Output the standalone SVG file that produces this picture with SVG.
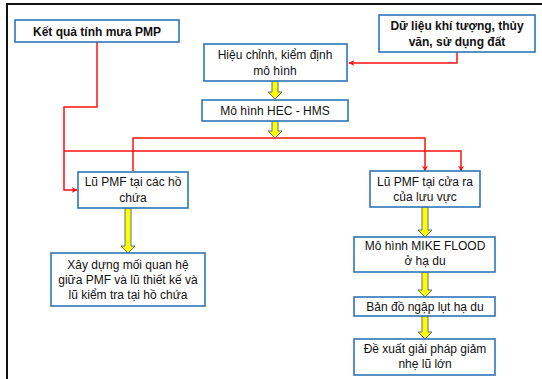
<svg xmlns="http://www.w3.org/2000/svg" width="542" height="379" viewBox="0 0 542 379">
<defs>
<style>
.box{fill:#fff;stroke:#2E75B6;stroke-width:1.6}
.t{font-family:"Liberation Sans",Arial,sans-serif;font-size:12px;fill:#111;text-anchor:middle}
.b{font-weight:bold}
.r{fill:none;stroke:#FF1010;stroke-width:1.5}
.y{fill:#FFFF00;stroke:#5A6E86;stroke-width:1}
</style>
<marker id="ah" viewBox="0 0 10 10" refX="9" refY="5" markerWidth="6" markerHeight="6" orient="auto" markerUnits="userSpaceOnUse">
<path d="M0,0 L10,5 L0,10 L3,5 Z" fill="#FF1010"/>
</marker>
</defs>
<rect width="542" height="379" fill="#fff"/>
<path d="M7,379 V4 H542" fill="none" stroke="#111" stroke-width="2"/>

<g id="connectors">
<path class="r" d="M97,42 V107 H64 V190 H77" marker-end="url(#ah)"/>
<path class="r" d="M64,151 H461 V171" marker-end="url(#ah)"/>
<path class="r" d="M133,171 V138 H425 V171" marker-end="url(#ah)"/>
<path class="r" d="M457,52 V63 H349" marker-end="url(#ah)"/>
<path class="y" d="M272,81 h6 v11 h4 l-7,7 l-7,-7 h4 z"/>
<path class="y" d="M272,121 h6 v10 h4 l-7,7 l-7,-7 h4 z"/>
<path class="y" d="M125,208 h6 v38 h4 l-7,7 l-7,-7 h4 z"/>
<path class="y" d="M422,207 h6 v23 h4 l-7,7 l-7,-7 h4 z"/>
<path class="y" d="M422,272 h6 v18 h4 l-7,7 l-7,-7 h4 z"/>
<path class="y" d="M422,316 h6 v16 h4 l-7,7 l-7,-7 h4 z"/>
</g>

<g id="n_pmp">
<rect class="box" x="15" y="20" width="164" height="22"/>
<text class="t b" x="97" y="35.5">Kết quả tính mưa PMP</text>
</g>
<g id="n_data">
<rect class="box" x="379" y="15" width="156" height="37"/>
<text class="t b" x="457" y="29.5">Dữ liệu khí tượng, thủy</text>
<text class="t b" x="457" y="45.5">văn, sử dụng đất</text>
</g>
<g id="n_calib">
<rect class="box" x="204" y="44" width="143" height="37"/>
<text class="t" x="275" y="59">Hiệu chỉnh, kiểm định</text>
<text class="t" x="275" y="75">mô hình</text>
</g>
<g id="n_hec">
<rect class="box" x="202" y="100" width="146" height="21"/>
<text class="t" x="275" y="115">Mô hình HEC - HMS</text>
</g>
<g id="n_reservoir">
<rect class="box" x="78" y="172" width="110" height="36"/>
<text class="t" x="133" y="186">Lũ PMF tại các hồ</text>
<text class="t" x="133" y="202">chứa</text>
</g>
<g id="n_relation">
<rect class="box" x="51" y="253" width="154" height="53"/>
<text class="t" x="128" y="269">Xây dựng mối quan hệ</text>
<text class="t" x="128" y="284">giữa PMF và lũ thiết kế và</text>
<text class="t" x="128" y="299">lũ kiểm tra tại hồ chứa</text>
</g>
<g id="n_outlet">
<rect class="box" x="370" y="171" width="110" height="36"/>
<text class="t" x="425" y="186">Lũ PMF tại cửa ra</text>
<text class="t" x="425" y="201">của lưu vực</text>
</g>
<g id="n_mike">
<rect class="box" x="354" y="237" width="141" height="35"/>
<text class="t" x="425" y="250">Mô hình MIKE FLOOD</text>
<text class="t" x="425" y="265">ở hạ du</text>
</g>
<g id="n_map">
<rect class="box" x="354" y="297" width="141" height="19"/>
<text class="t" x="425" y="310.5">Bản đồ ngập lụt hạ du</text>
</g>
<g id="n_solution">
<rect class="box" x="354" y="339" width="141" height="36"/>
<text class="t" x="425" y="353">Đề xuất giải pháp giảm</text>
<text class="t" x="425" y="368">nhẹ lũ lớn</text>
</g>
</svg>
